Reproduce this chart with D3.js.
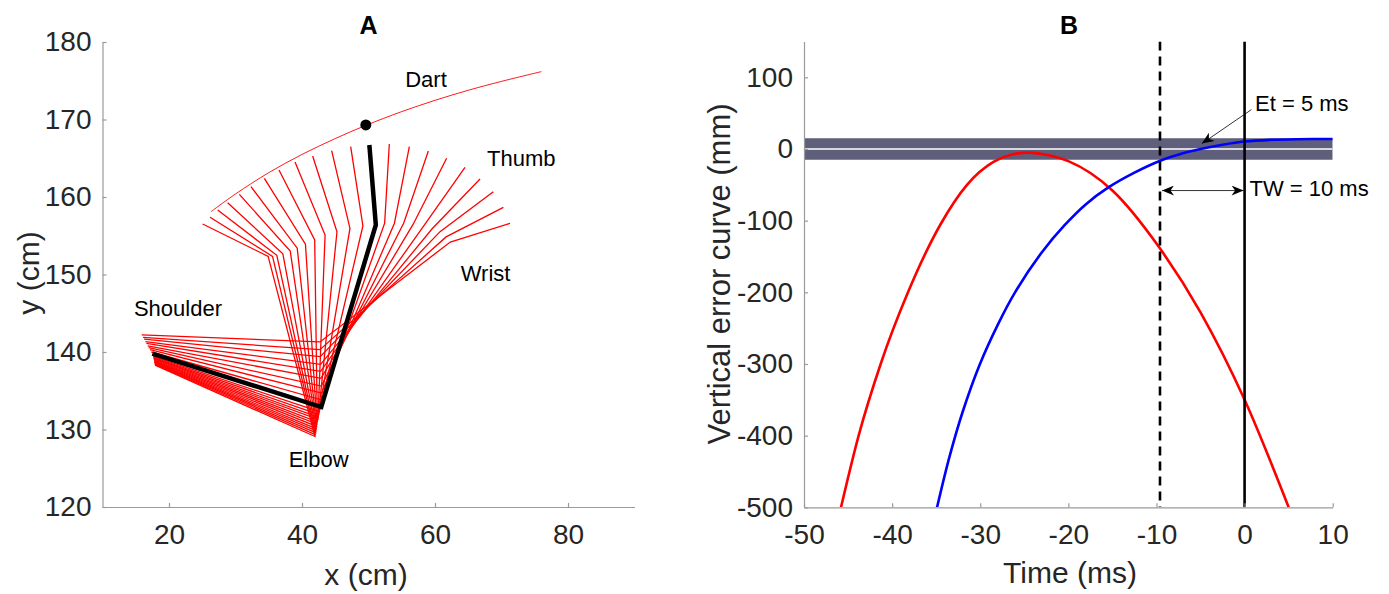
<!DOCTYPE html>
<html>
<head>
<meta charset="utf-8">
<script src="https://cdn.jsdelivr.net/npm/d3@7"></script>
<style>
  body { margin: 0; background: #fff; }
  text { font-family: "Liberation Sans", Arial, Helvetica, sans-serif; }
  .axis text { font-size: 28px; fill: #262626; }
  .axis path, .axis line { stroke: #9a9a9a; stroke-width: 1.2; }
</style>
</head>
<body>
<svg id="fig" width="1389" height="594"></svg>
<script>
// ---------- Panel A data (arm frames, cm) ----------
const shoulderX = [17.9, 17.87, 17.85, 17.82, 17.8, 17.77, 17.75, 17.72, 17.7, 17.67, 17.65, 17.62, 17.5,
                   17.35, 17.15, 16.95, 16.8, 16.6, 16.45, 16.25, 16.1, 15.9];
const shoulderY = [138.3, 138.4, 138.5, 138.6, 138.7, 138.8, 138.9, 139.0, 139.1, 139.2, 139.3, 139.45, 139.8,
                   140.0, 140.3, 140.55, 140.8, 141.1, 141.35, 141.65, 141.9, 142.2];
const elbowX = [41.95, 42.0, 42.05, 42.1, 42.15, 42.2, 42.25, 42.3, 42.4, 42.45, 42.5, 42.6, 42.9,
                43.0, 42.95, 42.9, 42.85, 42.8, 42.8, 42.75, 42.7, 42.7];
const elbowY = [129.1, 129.35, 129.6, 129.85, 130.1, 130.4, 130.7, 131.0, 131.3, 131.6, 131.95, 132.3, 132.9,
                133.8, 134.7, 135.6, 136.6, 137.5, 138.4, 139.4, 140.3, 141.3];
const wristX = [34.91, 35.57, 36.21, 37.12, 38.23, 39.28, 40.52, 41.91, 43.47, 45.26, 47.21, 49.16, 51.1,
                52.43, 53.9, 55.3, 56.72, 58.31, 59.57, 60.76, 61.67, 62.3];
const wristY = [152.34, 152.34, 152.48, 152.67, 153.03, 153.39, 153.9, 154.47, 155.09, 155.51, 155.94, 156.27, 156.4,
                156.63, 156.62, 156.65, 156.49, 156.28, 155.9, 155.53, 154.85, 154.19];
const thumbX = [25.06, 26.17, 27.32, 28.82, 30.58, 32.33, 34.34, 36.54, 38.95, 41.6, 44.46, 47.32, 50.13,
                53.13, 56.14, 59.0, 61.75, 64.51, 66.77, 68.77, 70.28, 71.28];
const thumbY = [156.52, 157.38, 158.32, 159.27, 160.34, 161.33, 162.41, 163.48, 164.52, 165.29, 165.98, 166.49, 166.71,
                166.84, 166.49, 165.94, 164.99, 163.83, 162.32, 160.69, 158.67, 156.6];
const releaseFrame = 12;

const dartX = [26.3, 30, 35, 40, 45, 49.6, 55, 60, 65, 70, 76];
const dartY = [158.1, 160.39, 163.14, 165.49, 167.54, 169.24, 171.02, 172.47, 173.77, 174.92, 176.18];
const releasePoint = [49.6, 169.3];

const xTicksA = [20, 40, 60, 80];
const yTicksA = [120, 130, 140, 150, 160, 170, 180];
const jointLabels = ["Dart", "Thumb", "Wrist", "Shoulder", "Elbow"];
const jointLabelX = [58.65, 72.98, 67.6, 21.35, 42.5];
const jointLabelY = [174.2, 164.0, 149.2, 144.65, 125.1];

// ---------- Panel B data (ms, mm) ----------
const redT = [-45.8, -43.8, -41.3, -38.2, -34.5, -31.5, -28.5, -26.5, -24.5, -22.5, -20, -15, -10, -5, 0, 5];
const redV = [-500, -400, -300, -200, -105, -50, -18, -8, -5, -8, -17, -58, -132, -228, -350, -500];
const blueT = [-34.9, -33.5, -32, -30.1, -28, -26, -23, -20.4, -18, -15.5, -12.5, -9.5, -7, -5, -2.5, 0, 3, 6, 10];
const blueV = [-500, -430, -367, -302, -245, -199, -144, -106, -77, -54, -33, -16, -6, 0, 6, 10.5, 12.8, 13.7, 14];
const toleranceBand = [-15, 15];
const windowStart = -9.6;
const releaseTime = 0;
const xTicksB = [-50, -40, -30, -20, -10, 0, 10];
const yTicksB = [-500, -400, -300, -200, -100, 0, 100];

const svg = d3.select("#fig");

// arrowhead marker
const defs = svg.append("defs");
defs.append("marker")
    .attr("id", "head")
    .attr("viewBox", "0 0 12 10")
    .attr("refX", 12).attr("refY", 5)
    .attr("markerWidth", 13).attr("markerHeight", 10)
    .attr("markerUnits", "userSpaceOnUse")
    .attr("orient", "auto-start-reverse")
    .append("path")
    .attr("d", "M0,0 L12,5 L0,10 L3.5,5 Z")
    .attr("fill", "#000");

// ================= Panel A =================
const ax = d3.scaleLinear().domain([10, 90]).range([102.5, 634.5]);
const ay = d3.scaleLinear().domain([120, 180]).range([507, 42]);

svg.append("g").attr("class", "axis")
    .attr("transform", "translate(0,507)")
    .call(d3.axisBottom(ax).tickValues(xTicksA).tickFormat(d => d).tickSize(-4).tickSizeOuter(0).tickPadding(17));
svg.append("g").attr("class", "axis")
    .attr("transform", "translate(102.5,0)")
    .call(d3.axisLeft(ay).tickValues(yTicksA).tickFormat(d => d).tickSize(-4).tickSizeOuter(0).tickPadding(11));

const frames = shoulderX.map((d, i) => [
  [shoulderX[i], shoulderY[i]], [elbowX[i], elbowY[i]],
  [wristX[i], wristY[i]], [thumbX[i], thumbY[i]]
]);
const armLine = d3.line().x(d => ax(d[0])).y(d => ay(d[1]));

// dart flight path
svg.append("path")
    .attr("d", d3.line().x(d => ax(d[0])).y(d => ay(d[1])).curve(d3.curveCatmullRom)(dartX.map((d, i) => [d, dartY[i]])))
    .attr("fill", "none").attr("stroke", "#ff0000").attr("stroke-width", 0.9);

svg.append("g").selectAll("path")
    .data(frames.filter((d, i) => i !== releaseFrame))
    .join("path")
    .attr("d", armLine)
    .attr("fill", "none").attr("stroke", "#ff0000").attr("stroke-width", 1.3)
    .attr("stroke-linejoin", "miter");

svg.append("path")
    .attr("d", armLine(frames[releaseFrame]))
    .attr("fill", "none").attr("stroke", "#000").attr("stroke-width", 4.5)
    .attr("stroke-linejoin", "miter");

svg.append("circle")
    .attr("cx", ax(releasePoint[0])).attr("cy", ay(releasePoint[1]))
    .attr("r", 5.5).attr("fill", "#000");

svg.append("g").selectAll("text")
    .data(jointLabels)
    .join("text")
    .attr("x", (d, i) => ax(jointLabelX[i]))
    .attr("y", (d, i) => ay(jointLabelY[i]))
    .attr("text-anchor", "middle")
    .attr("font-size", 22).attr("fill", "#000")
    .text(d => d);

svg.append("text").attr("x", 366).attr("y", 585).attr("text-anchor", "middle")
    .attr("font-size", 30).attr("fill", "#262626").text("x (cm)");
svg.append("text").attr("transform", "translate(39,273) rotate(-90)").attr("text-anchor", "middle")
    .attr("font-size", 30).attr("fill", "#262626").text("y (cm)");
svg.append("text").attr("x", 368.5).attr("y", 34).attr("text-anchor", "middle")
    .attr("font-size", 25).attr("font-weight", "bold").attr("fill", "#000").text("A");

// ================= Panel B =================
const bx = d3.scaleLinear().domain([-50, 10]).range([804, 1332.7]);
const by = d3.scaleLinear().domain([-500, 150]).range([507.3, 41.5]);

defs.append("clipPath").attr("id", "clipB")
    .append("rect").attr("x", 804).attr("y", 41.5).attr("width", 528.7).attr("height", 465.8);

const plotB = svg.append("g").attr("clip-path", "url(#clipB)");

plotB.append("rect")
    .attr("x", bx(-50)).attr("width", bx(10) - bx(-50))
    .attr("y", by(toleranceBand[1])).attr("height", by(toleranceBand[0]) - by(toleranceBand[1]))
    .attr("fill", "#5f5f7b");
plotB.append("line")
    .attr("x1", bx(-50)).attr("x2", bx(10)).attr("y1", by(0)).attr("y2", by(0))
    .attr("stroke", "#fff").attr("stroke-width", 1.5);

const curve = d3.line().x(d => bx(d[0])).y(d => by(d[1])).curve(d3.curveMonotoneX);
const smooth = d3.line().x(d => bx(d[0])).y(d => by(d[1])).curve(d3.curveCatmullRom.alpha(0.5));
plotB.append("path")
    .attr("d", curve(redT.map((t, i) => [t, redV[i]])))
    .attr("fill", "none").attr("stroke", "#ff0000").attr("stroke-width", 2.6);
plotB.append("path")
    .attr("d", smooth(blueT.map((t, i) => [t, blueV[i]])))
    .attr("fill", "none").attr("stroke", "#0000ff").attr("stroke-width", 2.6);

plotB.append("line")
    .attr("x1", bx(windowStart)).attr("x2", bx(windowStart)).attr("y1", by(150)).attr("y2", by(-500))
    .attr("stroke", "#000").attr("stroke-width", 2.6).attr("stroke-dasharray", "9,6");
plotB.append("line")
    .attr("x1", bx(releaseTime)).attr("x2", bx(releaseTime)).attr("y1", by(150)).attr("y2", by(-500))
    .attr("stroke", "#000").attr("stroke-width", 2.6);

svg.append("g").attr("class", "axis")
    .attr("transform", "translate(0,507.3)")
    .call(d3.axisBottom(bx).tickValues(xTicksB).tickFormat(d => d).tickSize(-4).tickSizeOuter(0).tickPadding(17));
svg.append("g").attr("class", "axis")
    .attr("transform", "translate(804,0)")
    .call(d3.axisLeft(by).tickValues(yTicksB).tickFormat(d => d).tickSize(-4).tickSizeOuter(0).tickPadding(11));

// annotations
svg.append("line")
    .attr("x1", bx(0.78)).attr("y1", by(55)).attr("x2", bx(-4.85)).attr("y2", by(7.5))
    .attr("stroke", "#000").attr("stroke-width", 0.8).attr("marker-end", "url(#head)");
svg.append("text").attr("x", bx(1.19)).attr("y", by(53.4))
    .attr("font-size", 22).attr("fill", "#000").text("Et = 5 ms");

svg.append("line")
    .attr("x1", bx(windowStart) + 2).attr("y1", by(-58)).attr("x2", bx(releaseTime) - 1).attr("y2", by(-58))
    .attr("stroke", "#000").attr("stroke-width", 0.8)
    .attr("marker-start", "url(#head)").attr("marker-end", "url(#head)");
svg.append("text").attr("x", bx(0.56)).attr("y", by(-65.6))
    .attr("font-size", 22).attr("fill", "#000").text("TW = 10 ms");

svg.append("text").attr("x", 1070).attr("y", 583).attr("text-anchor", "middle")
    .attr("font-size", 30).attr("fill", "#262626").text("Time (ms)");
svg.append("text").attr("transform", "translate(730,274) rotate(-90)").attr("text-anchor", "middle")
    .attr("font-size", 31).attr("fill", "#262626").text("Vertical error curve (mm)");
svg.append("text").attr("x", 1069).attr("y", 34).attr("text-anchor", "middle")
    .attr("font-size", 25).attr("font-weight", "bold").attr("fill", "#000").text("B");
</script>
</body>
</html>
